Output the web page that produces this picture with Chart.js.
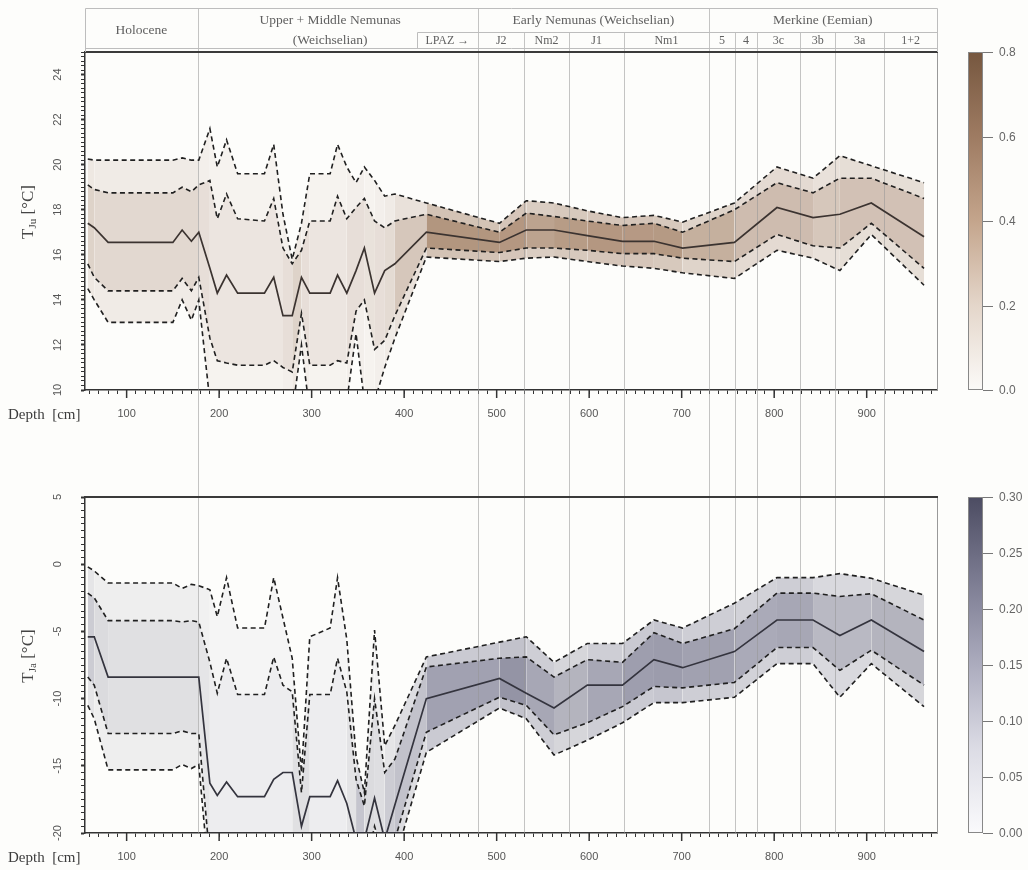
<!DOCTYPE html>
<html>
<head>
<meta charset="utf-8">
<script src="https://cdn.jsdelivr.net/npm/chart.js@4.4.1/dist/chart.umd.min.js"></script>
<style>
  html, body { margin: 0; padding: 0; background: #fdfdfb; }
  #wrap { position: relative; width: 1028px; height: 870px; overflow: hidden; }
  canvas { position: absolute; left: 0; }
  #julyChart { top: 0; }
  #janChart { top: 440px; }
</style>
</head>
<body>
<div id="wrap">
  <canvas id="julyChart" width="1028" height="440"></canvas>
  <canvas id="janChart" width="1028" height="430"></canvas>
</div>
<script>
// sample depths (cm) shared by every curve
const depths = [58, 65, 80, 150, 160, 170, 178, 190, 198, 208, 220, 249, 259, 269, 279, 289, 298,
  320, 328, 338, 348, 357, 368, 379, 390, 424, 503, 532, 562, 598, 636, 670, 701, 757, 803, 842, 871, 905, 962];

// July temperature reconstruction (°C)
const julyMedian = [17.4, 17.2, 16.55, 16.55, 17.1, 16.6, 17.0, 15.4, 14.3, 15.1, 14.3, 14.3, 15.0, 13.3, 13.3, 15.0, 14.3,
  14.3, 15.1, 14.3, 15.3, 16.3, 14.3, 15.3, 15.6, 17.0, 16.55, 17.1, 17.1, 16.85, 16.6, 16.6, 16.3, 16.55, 18.1, 17.65, 17.8, 18.3, 16.8];
const julyOuterHigh = [20.25, 20.2, 20.2, 20.2, 20.3, 20.2, 20.2, 21.6, 19.9, 21.1, 19.6, 19.6, 20.9, 17.8, 15.8, 17.4, 19.6,
  19.6, 20.9, 19.9, 19.2, 19.9, 19.3, 18.6, 18.7, 18.3, 17.4, 18.4, 18.3, 17.95, 17.65, 17.75, 17.45, 18.3, 19.9, 19.4, 20.4, 19.95, 19.2];
const julyInnerHigh = [19.1, 18.9, 18.75, 18.75, 19.0, 18.8, 19.1, 19.3, 17.6, 18.7, 17.6, 17.5, 18.5, 16.3, 15.6, 16.2, 17.5,
  17.5, 18.6, 17.6, 18.1, 18.5, 17.5, 17.2, 17.5, 17.8, 17.0, 17.85, 17.7, 17.5, 17.3, 17.4, 17.0, 18.0, 19.2, 18.75, 19.4, 19.4, 18.5];
const julyInnerLow = [15.6, 15.0, 14.4, 14.4, 14.95, 14.4, 15.0, 12.3, 11.3, 11.2, 11.1, 11.1, 11.3, 11.0, 10.8, 13.4, 11.1,
  11.1, 11.3, 11.2, 13.5, 14.0, 11.8, 12.2, 13.3, 16.3, 16.1, 16.3, 16.3, 16.2, 16.05, 16.05, 15.85, 15.7, 16.9, 16.4, 16.3, 17.4, 15.4];
const julyOuterLow = [14.5, 14.0, 13.0, 13.0, 14.0, 13.1, 14.0, 9.5, 8.0, 7.0, 7.0, 7.0, 7.0, 7.0, 9.0, 12.0, 9.0,
  7.0, 7.0, 9.5, 12.5, 9.5, 9.5, 11.0, 12.3, 15.9, 15.7, 15.85, 15.9, 15.7, 15.5, 15.4, 15.2, 14.95, 16.2, 15.85, 15.3, 16.9, 14.65];

// January temperature reconstruction (°C)
const janMedian = [-5.4, -5.4, -8.4, -8.4, -8.4, -8.4, -8.4, -16.3, -17.2, -16.2, -17.3, -17.3, -16.0, -15.5, -15.5, -19.5, -17.3,
  -17.3, -16.1, -17.8, -20.5, -20.5, -17.4, -20.5, -17.9, -10.0, -8.5, -9.6, -10.7, -9.0, -9.0, -7.1, -7.7, -6.5, -4.15, -4.15, -5.3, -4.15, -6.5];
const janOuterHigh = [-0.2, -0.5, -1.4, -1.4, -1.8, -1.5, -1.6, -1.9, -3.9, -1.0, -4.75, -4.75, -1.0, -4.0, -7.0, -15.5, -5.4,
  -4.75, -1.0, -5.6, -14.3, -17.0, -4.9, -13.5, -12.0, -6.9, -5.8, -5.4, -7.3, -5.9, -5.9, -4.15, -4.75, -2.9, -1.0, -1.0, -0.7, -1.05, -2.3];
const janInnerHigh = [-2.15, -2.5, -4.2, -4.2, -4.3, -4.2, -4.3, -7.3, -9.6, -7.0, -9.7, -9.7, -6.9, -9.0, -9.5, -17.0, -9.7,
  -9.7, -7.0, -9.5, -16.0, -18.0, -10.0, -15.5, -14.5, -7.65, -7.0, -6.9, -8.4, -7.1, -7.3, -5.1, -5.9, -4.8, -2.15, -2.15, -2.4, -2.2, -4.15];
const janInnerLow = [-8.4, -9.0, -12.6, -12.6, -12.4, -12.6, -12.6, -22, -23, -23, -23, -23, -23, -23, -23, -21, -23,
  -23, -23, -23, -23, -23, -19.5, -22, -20.5, -12.5, -9.9, -10.5, -12.7, -11.8, -10.6, -9.1, -9.2, -8.8, -6.2, -6.2, -7.9, -6.4, -9.0];
const janOuterLow = [-10.5, -11.5, -15.3, -15.3, -14.9, -15.2, -14.9, -24, -24, -24, -24, -24, -24, -24, -24, -24, -24,
  -24, -24, -24, -24, -24, -24, -24, -22, -14.0, -10.7, -11.5, -14.2, -13.1, -11.8, -10.3, -10.3, -9.9, -7.4, -7.4, -9.9, -7.4, -10.6];

// axes and zones
const xLabels = [100, 200, 300, 400, 500, 600, 700, 800, 900];
const julyTicks = [10, 12, 14, 16, 18, 20, 22, 24];
const janTicks = [-20, -15, -10, -5, 0, 5];
const julyBarTicks = [0, 0.2, 0.4, 0.6, 0.8];
const janBarTicks = [0, 0.05, 0.1, 0.15, 0.2, 0.25, 0.3];
const mainZoneDepths = [177, 480, 729];
const subZoneDepths = [530, 578, 638, 758, 781, 828, 866, 919];
const headerMain = ['Holocene', 'Upper + Middle Nemunas', 'Early Nemunas (Weichselian)', 'Merkine (Eemian)'];
const headerSub = ['J2', 'Nm2', 'J1', 'Nm1', '5', '4', '3c', '3b', '3a', '1+2'];

const X_MIN = 55, X_MAX = 976;
const BG = '#fdfdfb';

function lineSet(values, dashed, color) {
  return {
    data: depths.map((d, i) => ({x: d, y: values[i]})),
    borderColor: color,
    borderWidth: dashed ? 1.6 : 1.7,
    borderDash: dashed ? [5, 3.5] : [],
    pointRadius: 0,
    tension: 0,
    fill: false
  };
}

// shaded band: darker where the spread is narrow
function bandSet(hi, lo, target, rgb, k, pw, cap) {
  return {
    data: depths.map((d, i) => ({x: d, y: hi[i]})),
    borderColor: 'rgba(0,0,0,0)',
    borderWidth: 0,
    pointRadius: 0,
    tension: 0,
    fill: {target: target},
    backgroundColor: `rgba(${rgb},0.1)`,
    segment: {
      backgroundColor: ctx => {
        const i = ctx.p0DataIndex, j = ctx.p1DataIndex;
        const s = ((hi[i] - lo[i]) + (hi[j] - lo[j])) / 2;
        const a = Math.min(cap, k / Math.pow(Math.max(s, 0.1), pw));
        return `rgba(${rgb},${(Math.round(a * 50) / 50).toFixed(2)})`;
      }
    }
  };
}

function decor(o) {
  return {
    id: 'decor',
    beforeDraw(chart) {
      const c = chart.ctx;
      c.save();
      c.fillStyle = BG;
      c.fillRect(0, 0, chart.width, chart.height);
      c.restore();
    },
    beforeDatasetsDraw(chart) {
      const {ctx: c, scales: {x}, chartArea: a} = chart;
      c.save();
      c.strokeStyle = 'rgba(150,150,150,0.55)';
      c.lineWidth = 1;
      const draw = (d, y0) => {
        const px = Math.round(x.getPixelForValue(d)) + 0.5;
        c.beginPath();
        c.moveTo(px, y0);
        c.lineTo(px, o.header ? chart.height : a.bottom);
        c.stroke();
      };
      mainZoneDepths.forEach(d => draw(d, o.header ? 8 : 0));
      subZoneDepths.forEach(d => draw(d, o.header ? 32 : 0));
      c.restore();
    },
    afterDraw(chart) {
      const {ctx: c, scales: {x, y, cb}, chartArea: a} = chart;
      c.save();
      // top and right frame
      c.strokeStyle = '#999';
      c.lineWidth = 1;
      c.beginPath();
      c.moveTo(a.right + 0.5, a.top);
      c.lineTo(a.right + 0.5, a.bottom);
      c.stroke();
      c.strokeStyle = '#3a3a3a';
      c.lineWidth = 2.2;
      c.beginPath();
      c.moveTo(a.left - 1, a.top);
      c.lineTo(a.right + 1, a.top);
      c.stroke();

      // longer major ticks on depth axis
      c.strokeStyle = '#333';
      c.lineWidth = 1.5;
      xLabels.forEach(v => {
        const px = x.getPixelForValue(v);
        c.beginPath();
        c.moveTo(px, a.bottom);
        c.lineTo(px, a.bottom + 8);
        c.stroke();
      });

      // rotated y tick labels
      c.fillStyle = '#555';
      c.font = '11px "Liberation Sans", Arial, sans-serif';
      c.textAlign = 'center';
      c.textBaseline = 'middle';
      o.yTicks.forEach(v => {
        c.save();
        c.translate(58, y.getPixelForValue(v));
        c.rotate(-Math.PI / 2);
        c.fillText(String(v), 0, 0);
        c.restore();
      });

      // y title with subscript
      c.save();
      c.translate(27, (a.top + a.bottom) / 2 - 9);
      c.rotate(-Math.PI / 2);
      c.fillStyle = '#444';
      c.textAlign = 'left';
      c.textBaseline = 'alphabetic';
      const big = '17px "Liberation Serif", "Times New Roman", serif';
      const small = '11px "Liberation Serif", "Times New Roman", serif';
      c.font = big; const wT = c.measureText('T').width;
      const rest = ' [°C]'; const wR = c.measureText(rest).width;
      c.font = small; const wS = c.measureText(o.sub).width;
      let px0 = -(wT + wS + wR) / 2;
      c.font = big; c.fillText('T', px0, 6); px0 += wT;
      c.font = small; c.fillText(o.sub, px0, 9); px0 += wS;
      c.font = big; c.fillText(rest, px0, 6);
      c.restore();

      // depth label
      c.fillStyle = '#3c3c3c';
      c.font = '15px "Liberation Serif", "Times New Roman", serif';
      c.textAlign = 'left';
      c.textBaseline = 'middle';
      c.fillText('Depth  [cm]', 8, a.bottom + 25);

      // colour bar
      const bx = 968, bw = 15, top = cb.getPixelForValue(cb.max), bot = cb.getPixelForValue(cb.min);
      const g = c.createLinearGradient(0, bot, 0, top);
      o.ramp.forEach((col, i) => g.addColorStop(i / (o.ramp.length - 1), col));
      c.fillStyle = g;
      c.fillRect(bx, top, bw, bot - top);
      c.strokeStyle = '#888';
      c.lineWidth = 1;
      c.strokeRect(bx + 0.5, top + 0.5, bw - 1, bot - top - 1);
      c.fillStyle = '#666';
      c.font = '12px "Liberation Sans", Arial, sans-serif';
      c.textAlign = 'left';
      c.textBaseline = 'middle';
      o.barTicks.forEach(v => {
        const py = Math.round(cb.getPixelForValue(v)) + 0.5;
        c.strokeStyle = '#777';
        c.beginPath();
        c.moveTo(bx + bw, py);
        c.lineTo(bx + bw + 10, py);
        c.stroke();
        c.fillText(v.toFixed(o.barDigits), bx + bw + 16, py);
      });

      if (o.header) drawHeader(chart);
      c.restore();
    }
  };
}

function drawHeader(chart) {
  const {ctx: c, scales: {x}, chartArea: a} = chart;
  const px = d => Math.round(x.getPixelForValue(d)) + 0.5;
  const L = a.left + 0.5, R = a.right + 0.5, T = 8.5, M = 32.5, B = 48.5;
  const lpaz = 413.5;
  c.save();
  c.strokeStyle = '#bdbdbd';
  c.lineWidth = 1;
  c.beginPath();
  c.moveTo(L, T); c.lineTo(R, T);
  c.moveTo(L, T); c.lineTo(L, a.top);
  c.moveTo(R, T); c.lineTo(R, a.top);
  c.moveTo(px(lpaz), M); c.lineTo(R, M);
  c.moveTo(px(lpaz), M); c.lineTo(px(lpaz), B);
  c.moveTo(L, B); c.lineTo(R, B);
  c.stroke();

  c.fillStyle = '#606060';
  c.textAlign = 'center';
  c.textBaseline = 'middle';
  c.font = '13.5px "Liberation Serif", "Times New Roman", serif';
  c.fillText(headerMain[0], x.getPixelForValue((X_MIN + mainZoneDepths[0]) / 2), 30);
  c.fillText(headerMain[1], x.getPixelForValue(320), 20);
  c.fillText('(Weichselian)', x.getPixelForValue(320), 40);
  c.fillText(headerMain[2], x.getPixelForValue((mainZoneDepths[1] + mainZoneDepths[2]) / 2), 20);
  c.fillText(headerMain[3], x.getPixelForValue((mainZoneDepths[2] + X_MAX) / 2), 20);
  c.font = '12px "Liberation Serif", "Times New Roman", serif';
  c.fillText('LPAZ \u2192', x.getPixelForValue((lpaz + mainZoneDepths[1]) / 2), 41);
  const edges = [mainZoneDepths[1], 530, 578, 638, mainZoneDepths[2], 758, 781, 828, 866, 919, X_MAX];
  headerSub.forEach((t, i) => {
    c.fillText(t, x.getPixelForValue((edges[i] + edges[i + 1]) / 2), 41);
  });
  c.restore();
}

function buildChart(id, o) {
  const majorEvery = o.major;
  return new Chart(document.getElementById(id), {
    type: 'line',
    data: {
      datasets: [
        lineSet(o.outerHigh, true, '#202020'),
        lineSet(o.innerHigh, true, '#202020'),
        lineSet(o.median, false, o.medianColor),
        lineSet(o.innerLow, true, '#202020'),
        lineSet(o.outerLow, true, '#202020'),
        bandSet(o.outerHigh, o.outerLow, 4, o.rgb, o.kOuter, o.pw, o.cap),
        bandSet(o.innerHigh, o.innerLow, 3, o.rgb, o.kInner, o.pw, o.cap)
      ]
    },
    options: {
      responsive: false,
      animation: false,
      events: [],
      layout: {padding: {top: o.padTop, right: 1028 - 937, left: 0, bottom: 0}},
      plugins: {
        legend: {display: false},
        tooltip: {enabled: false},
        filler: {drawTime: 'beforeDatasetsDraw'}
      },
      scales: {
        x: {
          type: 'linear', position: 'bottom', min: X_MIN, max: X_MAX,
          afterFit: s => { s.height = o.xHeight; },
          ticks: {
            stepSize: 10, autoSkip: false, includeBounds: false, maxRotation: 0, padding: 13,
            color: '#555', font: {family: '"Liberation Sans", Arial, sans-serif', size: 11},
            callback: v => xLabels.includes(v) ? String(v) : ''
          },
          grid: {drawOnChartArea: false, tickLength: 4, tickColor: '#333'},
          border: {color: '#333', width: 1.5}
        },
        y: {
          type: 'linear', position: 'left', min: o.yMin, max: o.yMax,
          afterFit: s => { s.width = 85; },
          ticks: {stepSize: o.yStep, display: false},
          grid: {
            drawOnChartArea: false, tickLength: 4, tickColor: '#333',
            tickWidth: ctx => {
              const v = ctx.tick ? ctx.tick.value / majorEvery : 0.5;
              return Math.abs(v - Math.round(v)) < 1e-6 ? 2 : 1;
            }
          },
          border: {color: '#333', width: 1.5}
        },
        cb: {type: 'linear', position: 'right', display: false, min: 0, max: o.barMax}
      }
    },
    plugins: [decor(o)]
  });
}

buildChart('julyChart', {
  header: true, sub: 'Ju', padTop: 52, xHeight: 50,
  yMin: 10, yMax: 25, yStep: 0.2, major: 2, yTicks: julyTicks,
  median: julyMedian, outerHigh: julyOuterHigh, innerHigh: julyInnerHigh, innerLow: julyInnerLow, outerLow: julyOuterLow,
  medianColor: '#3b3330', rgb: '130,82,48', kOuter: 0.7, kInner: 0.5, pw: 1, cap: 0.4,
  barMax: 0.8, barTicks: julyBarTicks, barDigits: 1,
  ramp: ['#fbfaf8', '#e4d6ca', '#c4a58c', '#9e7b62', '#76573f']
});

buildChart('janChart', {
  header: false, sub: 'Ja', padTop: 57, xHeight: 37,
  yMin: -20, yMax: 5, yStep: 0.5, major: 5, yTicks: janTicks,
  median: janMedian, outerHigh: janOuterHigh, innerHigh: janInnerHigh, innerLow: janInnerLow, outerLow: janOuterLow,
  medianColor: '#34343e', rgb: '58,58,92', kOuter: 3.9, kInner: 2.1, pw: 1.5, cap: 0.34,
  barMax: 0.3, barTicks: janBarTicks, barDigits: 2,
  ramp: ['#fafafc', '#dcdce5', '#acacbe', '#7c7c92', '#4c4c62']
});
</script>
</body>
</html>
